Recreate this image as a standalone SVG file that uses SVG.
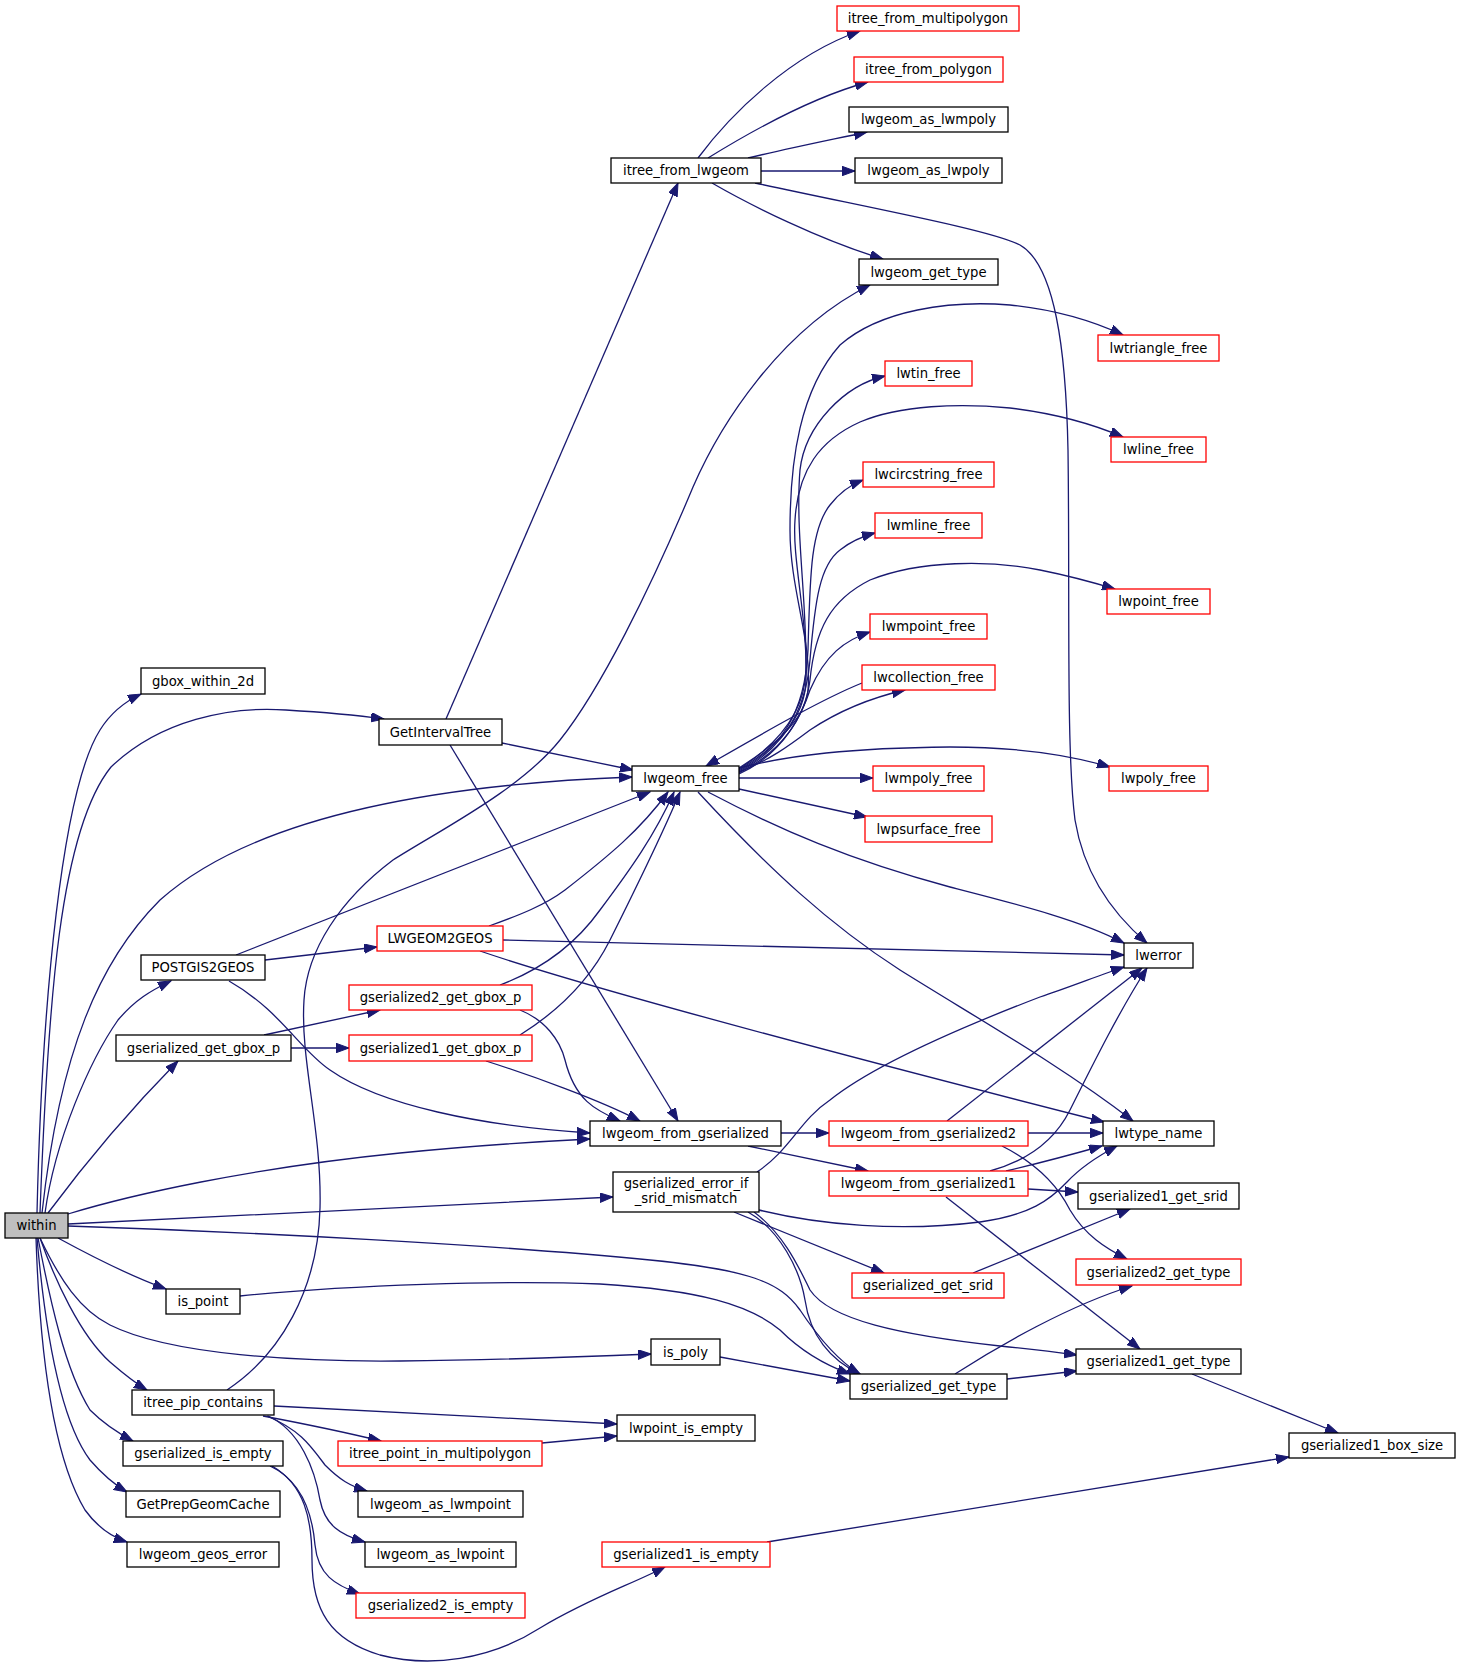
<svg xmlns="http://www.w3.org/2000/svg" width="1460" height="1664" viewBox="0 0 1460 1664">
<defs>
<marker id="arr" markerUnits="userSpaceOnUse" markerWidth="14" markerHeight="10" refX="13" refY="4.75" orient="auto">
<path d="M0,0 L13,4.75 L0,9.5 z" fill="#191970" stroke="#191970" stroke-width="1"/>
</marker>
<style>
.n rect{fill:#fff;stroke:#000;stroke-width:1.3}
.r rect{fill:#fff;stroke:#ff0000;stroke-width:1.3}
.cur rect{fill:#bfbfbf;stroke:#000;stroke-width:1.3}
text{font-family:"DejaVu Sans","Liberation Sans",sans-serif;font-size:13.2px;text-anchor:middle;fill:#000}
#edges path{fill:none;stroke:#191970;stroke-width:1.3;marker-end:url(#arr)}
</style>
</defs>
<rect width="1460" height="1664" fill="#fff"/>
<g id="edges">
<path d="M37,1213 C42,1000 62,790 100,730 C110,714 124,702 141,694"/>
<path d="M40,1213 C48,1000 60,830 111,767 C160,720 230,706 286,710 C320,712 355,715 384,719"/>
<path d="M42,1213 C60,1050 100,960 160,900 C250,820 420,785 632,777"/>
<path d="M45,1213 C55,1140 90,1060 118,1020 C135,1000 150,991 171,981"/>
<path d="M48,1213 C80,1170 120,1120 178,1061"/>
<path d="M68,1214 C130,1195 250,1168 400,1153 C470,1146 530,1142 590,1139"/>
<path d="M68,1224 C250,1215 450,1205 613,1197"/>
<path d="M68,1226 C250,1232 500,1245 650,1260 C750,1270 780,1282 800,1310 C820,1340 840,1362 860,1374"/>
<path d="M58,1238 C80,1250 120,1272 166,1289"/>
<path d="M40,1238 C60,1280 80,1310 110,1325 C170,1355 300,1362 400,1361 C500,1360 580,1357 651,1354"/>
<path d="M40,1238 C55,1280 80,1335 110,1362 C125,1375 135,1383 147,1390"/>
<path d="M38,1238 C50,1300 65,1370 90,1410 C105,1425 118,1433 133,1441"/>
<path d="M37,1238 C45,1330 60,1420 90,1460 C103,1475 115,1485 127,1492"/>
<path d="M36,1238 C40,1360 55,1460 85,1510 C98,1528 112,1537 127,1542"/>
<path d="M446,719 L678,183"/>
<path d="M502,743 L633,770"/>
<path d="M450,745 L678,1121"/>
<path d="M698,158 C730,115 790,55 860,31"/>
<path d="M708,158 C750,132 810,98 868,82"/>
<path d="M748,158 C790,148 830,140 867,132"/>
<path d="M761,171 L855,171"/>
<path d="M712,183 C750,205 820,240 883,259"/>
<path d="M755,183 C880,210 990,230 1020,245 C1055,265 1066,350 1068,450 C1070,600 1066,750 1075,820 C1085,880 1120,920 1147,943"/>
<path d="M227,1390 C280,1355 318,1290 320,1208 C322,1130 300,1060 304,1000 C307,950 340,900 393,860 C440,830 520,790 560,740 C600,690 650,590 693,487 C720,425 780,330 870,285"/>
<path d="M274,1406 C400,1412 500,1418 617,1424"/>
<path d="M263,1416 C300,1423 340,1431 381,1441"/>
<path d="M267,1416 C300,1430 310,1445 325,1465 C340,1480 350,1486 367,1491"/>
<path d="M268,1416 C300,1430 315,1470 320,1500 C325,1525 340,1535 365,1542"/>
<path d="M542,1443 L617,1436"/>
<path d="M270,1466 C300,1480 312,1510 315,1545 C318,1575 335,1585 360,1594"/>
<path d="M272,1466 C305,1485 312,1520 312,1560 C312,1610 330,1640 380,1655 C430,1668 490,1660 540,1628 C590,1598 630,1585 665,1567"/>
<path d="M767,1542 L1289,1457"/>
<path d="M236,955 L650,792"/>
<path d="M265,960 L377,947"/>
<path d="M229,981 C280,1010 300,1050 330,1070 C380,1105 480,1126 590,1133"/>
<path d="M489,926 C520,915 545,905 565,890 C610,855 640,830 668,792"/>
<path d="M503,940 L1124,955"/>
<path d="M480,951 C600,992 900,1070 1104,1122"/>
<path d="M264,1035 L380,1010"/>
<path d="M291,1048 L349,1048"/>
<path d="M500,985 C540,970 575,945 600,910 C630,870 655,835 674,792"/>
<path d="M520,1010 C545,1020 560,1040 565,1060 C575,1100 595,1110 620,1121"/>
<path d="M520,1035 C560,1010 590,980 610,940 C635,890 660,840 680,792"/>
<path d="M486,1061 C530,1075 600,1100 640,1121"/>
<path d="M781,1133 L829,1133"/>
<path d="M748,1146 L868,1171"/>
<path d="M947,1121 L1142,968"/>
<path d="M1028,1133 L1103,1133"/>
<path d="M1002,1146 C1040,1165 1060,1190 1070,1210 C1085,1235 1105,1248 1127,1259"/>
<path d="M990,1171 C1030,1160 1055,1140 1070,1110 C1095,1060 1120,1010 1147,968"/>
<path d="M1006,1171 C1040,1163 1070,1155 1102,1146"/>
<path d="M1028,1189 L1078,1192"/>
<path d="M946,1197 L1140,1349"/>
<path d="M757,1172 C790,1150 800,1120 830,1100 C880,1060 980,1020 1040,997 C1070,987 1100,975 1124,967"/>
<path d="M759,1210 C820,1225 900,1232 980,1222 C1030,1215 1050,1200 1067,1182 C1080,1168 1100,1155 1117,1146"/>
<path d="M734,1212 L884,1273"/>
<path d="M748,1212 C780,1230 800,1270 805,1300 C810,1335 830,1360 860,1374"/>
<path d="M754,1212 C785,1235 800,1270 810,1290 C830,1320 900,1335 1000,1346 C1030,1349 1055,1352 1077,1355"/>
<path d="M240,1296 C350,1285 500,1280 600,1284 C700,1290 750,1305 780,1330 C800,1350 825,1365 850,1374"/>
<path d="M720,1357 L850,1381"/>
<path d="M973,1273 L1130,1209"/>
<path d="M955,1374 C1000,1345 1070,1305 1132,1286"/>
<path d="M1007,1379 L1077,1371"/>
<path d="M1192,1374 L1338,1433"/>
<path d="M739,778 L873,778"/>
<path d="M739,789 L867,817"/>
<path d="M708,792 C780,830 850,860 950,887 C1020,905 1080,920 1124,943"/>
<path d="M698,792 C770,870 830,925 900,970 C980,1020 1060,1065 1133,1121"/>
<path d="M739,768 C790,755 850,748 950,747 C1020,747 1070,755 1110,767"/>
<path d="M739,772 C770,760 790,745 810,730 C840,710 870,698 905,690"/>
<path d="M862,683 C820,700 760,735 706,766"/>
<path d="M739,774 C780,755 800,720 810,690 C825,655 845,640 870,632"/>
<path d="M739,773 C780,752 805,720 810,680 C815,630 830,600 870,580 C920,560 990,560 1040,570 C1070,576 1095,583 1115,589"/>
<path d="M739,772 C780,750 806,715 810,660 C815,600 820,565 840,550 C850,542 860,537 875,533"/>
<path d="M739,771 C780,748 805,715 808,650 C810,580 810,530 830,505 C840,492 850,485 863,480"/>
<path d="M739,770 C775,748 805,720 806,680 C808,620 792,560 795,520 C798,470 820,440 860,422 C900,405 960,403 1010,408 C1060,414 1095,425 1123,437"/>
<path d="M739,769 C775,746 805,715 806,670 C807,600 795,530 800,470 C805,425 845,385 885,376"/>
<path d="M739,768 C775,745 805,720 808,690 C812,640 790,590 790,530 C790,460 800,390 840,345 C880,310 950,300 1010,305 C1060,310 1095,322 1123,335"/>
</g>
<g id="within" class="cur"><rect x="5" y="1213" width="63" height="25"/><text x="36.5" y="1230">within</text></g>
<g id="gbox_within_2d" class="n"><rect x="141" y="668" width="124" height="26"/><text x="203" y="685.5">gbox_within_2d</text></g>
<g id="GetIntervalTree" class="n"><rect x="379" y="719" width="123" height="26"/><text x="440.5" y="736.5">GetIntervalTree</text></g>
<g id="itree_from_lwgeom" class="n"><rect x="611" y="158" width="150" height="25"/><text x="686" y="175">itree_from_lwgeom</text></g>
<g id="itree_from_multipolygon" class="r"><rect x="837" y="6" width="182" height="25"/><text x="928" y="23">itree_from_multipolygon</text></g>
<g id="itree_from_polygon" class="r"><rect x="854" y="57" width="149" height="25"/><text x="928.5" y="74">itree_from_polygon</text></g>
<g id="lwgeom_as_lwmpoly" class="n"><rect x="849" y="107" width="159" height="25"/><text x="928.5" y="124">lwgeom_as_lwmpoly</text></g>
<g id="lwgeom_as_lwpoly" class="n"><rect x="855" y="158" width="147" height="25"/><text x="928.5" y="175">lwgeom_as_lwpoly</text></g>
<g id="lwgeom_get_type" class="n"><rect x="859" y="259" width="139" height="26"/><text x="928.5" y="276.5">lwgeom_get_type</text></g>
<g id="lwtriangle_free" class="r"><rect x="1098" y="335" width="121" height="26"/><text x="1158.5" y="352.5">lwtriangle_free</text></g>
<g id="lwtin_free" class="r"><rect x="885" y="361" width="87" height="25"/><text x="928.5" y="378">lwtin_free</text></g>
<g id="lwline_free" class="r"><rect x="1111" y="437" width="95" height="25"/><text x="1158.5" y="454">lwline_free</text></g>
<g id="lwcircstring_free" class="r"><rect x="863" y="462" width="131" height="25"/><text x="928.5" y="479">lwcircstring_free</text></g>
<g id="lwmline_free" class="r"><rect x="875" y="513" width="107" height="25"/><text x="928.5" y="530">lwmline_free</text></g>
<g id="lwpoint_free" class="r"><rect x="1107" y="589" width="103" height="25"/><text x="1158.5" y="606">lwpoint_free</text></g>
<g id="lwmpoint_free" class="r"><rect x="870" y="614" width="117" height="25"/><text x="928.5" y="631">lwmpoint_free</text></g>
<g id="lwcollection_free" class="r"><rect x="862" y="665" width="133" height="25"/><text x="928.5" y="682">lwcollection_free</text></g>
<g id="lwgeom_free" class="n"><rect x="632" y="766" width="107" height="25"/><text x="685.5" y="783">lwgeom_free</text></g>
<g id="lwmpoly_free" class="r"><rect x="873" y="766" width="111" height="25"/><text x="928.5" y="783">lwmpoly_free</text></g>
<g id="lwpoly_free" class="r"><rect x="1109" y="766" width="99" height="25"/><text x="1158.5" y="783">lwpoly_free</text></g>
<g id="lwpsurface_free" class="r"><rect x="865" y="816" width="127" height="26"/><text x="928.5" y="833.5">lwpsurface_free</text></g>
<g id="LWGEOM2GEOS" class="r"><rect x="377" y="926" width="126" height="25"/><text x="440" y="943">LWGEOM2GEOS</text></g>
<g id="lwerror" class="n"><rect x="1124" y="943" width="69" height="25"/><text x="1158.5" y="960">lwerror</text></g>
<g id="POSTGIS2GEOS" class="n"><rect x="141" y="955" width="124" height="25"/><text x="203" y="972">POSTGIS2GEOS</text></g>
<g id="gserialized2_get_gbox_p" class="r"><rect x="349" y="985" width="183" height="25"/><text x="440.5" y="1002">gserialized2_get_gbox_p</text></g>
<g id="gserialized_get_gbox_p" class="n"><rect x="116" y="1035" width="175" height="26"/><text x="203.5" y="1052.5">gserialized_get_gbox_p</text></g>
<g id="gserialized1_get_gbox_p" class="r"><rect x="349" y="1035" width="183" height="26"/><text x="440.5" y="1052.5">gserialized1_get_gbox_p</text></g>
<g id="lwgeom_from_gserialized" class="n"><rect x="590" y="1121" width="191" height="25"/><text x="685.5" y="1138">lwgeom_from_gserialized</text></g>
<g id="lwgeom_from_gserialized2" class="r"><rect x="829" y="1121" width="199" height="25"/><text x="928.5" y="1138">lwgeom_from_gserialized2</text></g>
<g id="lwtype_name" class="n"><rect x="1103" y="1121" width="111" height="25"/><text x="1158.5" y="1138">lwtype_name</text></g>
<g id="lwgeom_from_gserialized1" class="r"><rect x="829" y="1171" width="199" height="25"/><text x="928.5" y="1188">lwgeom_from_gserialized1</text></g>
<g id="gserialized_error_if_srid_mismatch" class="n"><rect x="613" y="1172" width="146" height="40"/><text x="686" y="1188">gserialized_error_if</text><text x="686" y="1203">_srid_mismatch</text></g>
<g id="gserialized1_get_srid" class="n"><rect x="1078" y="1183" width="161" height="26"/><text x="1158.5" y="1200.5">gserialized1_get_srid</text></g>
<g id="gserialized2_get_type" class="r"><rect x="1076" y="1259" width="165" height="26"/><text x="1158.5" y="1276.5">gserialized2_get_type</text></g>
<g id="gserialized_get_srid" class="r"><rect x="852" y="1273" width="152" height="25"/><text x="928" y="1290">gserialized_get_srid</text></g>
<g id="is_point" class="n"><rect x="166" y="1289" width="74" height="25"/><text x="203" y="1306">is_point</text></g>
<g id="is_poly" class="n"><rect x="651" y="1339" width="69" height="26"/><text x="685.5" y="1356.5">is_poly</text></g>
<g id="gserialized1_get_type" class="n"><rect x="1076" y="1349" width="165" height="25"/><text x="1158.5" y="1366">gserialized1_get_type</text></g>
<g id="gserialized_get_type" class="n"><rect x="850" y="1374" width="157" height="25"/><text x="928.5" y="1391">gserialized_get_type</text></g>
<g id="itree_pip_contains" class="n"><rect x="132" y="1390" width="142" height="25"/><text x="203" y="1407">itree_pip_contains</text></g>
<g id="lwpoint_is_empty" class="n"><rect x="617" y="1415" width="138" height="26"/><text x="686" y="1432.5">lwpoint_is_empty</text></g>
<g id="gserialized1_box_size" class="n"><rect x="1289" y="1433" width="166" height="25"/><text x="1372" y="1450">gserialized1_box_size</text></g>
<g id="gserialized_is_empty" class="n"><rect x="123" y="1441" width="160" height="25"/><text x="203" y="1458">gserialized_is_empty</text></g>
<g id="itree_point_in_multipolygon" class="r"><rect x="338" y="1441" width="204" height="25"/><text x="440" y="1458">itree_point_in_multipolygon</text></g>
<g id="GetPrepGeomCache" class="n"><rect x="126" y="1491" width="154" height="26"/><text x="203" y="1508.5">GetPrepGeomCache</text></g>
<g id="lwgeom_as_lwmpoint" class="n"><rect x="358" y="1491" width="165" height="26"/><text x="440.5" y="1508.5">lwgeom_as_lwmpoint</text></g>
<g id="lwgeom_geos_error" class="n"><rect x="127" y="1542" width="152" height="25"/><text x="203" y="1559">lwgeom_geos_error</text></g>
<g id="lwgeom_as_lwpoint" class="n"><rect x="365" y="1542" width="151" height="25"/><text x="440.5" y="1559">lwgeom_as_lwpoint</text></g>
<g id="gserialized1_is_empty" class="r"><rect x="602" y="1542" width="168" height="25"/><text x="686" y="1559">gserialized1_is_empty</text></g>
<g id="gserialized2_is_empty" class="r"><rect x="356" y="1593" width="169" height="25"/><text x="440.5" y="1610">gserialized2_is_empty</text></g>
</svg>
